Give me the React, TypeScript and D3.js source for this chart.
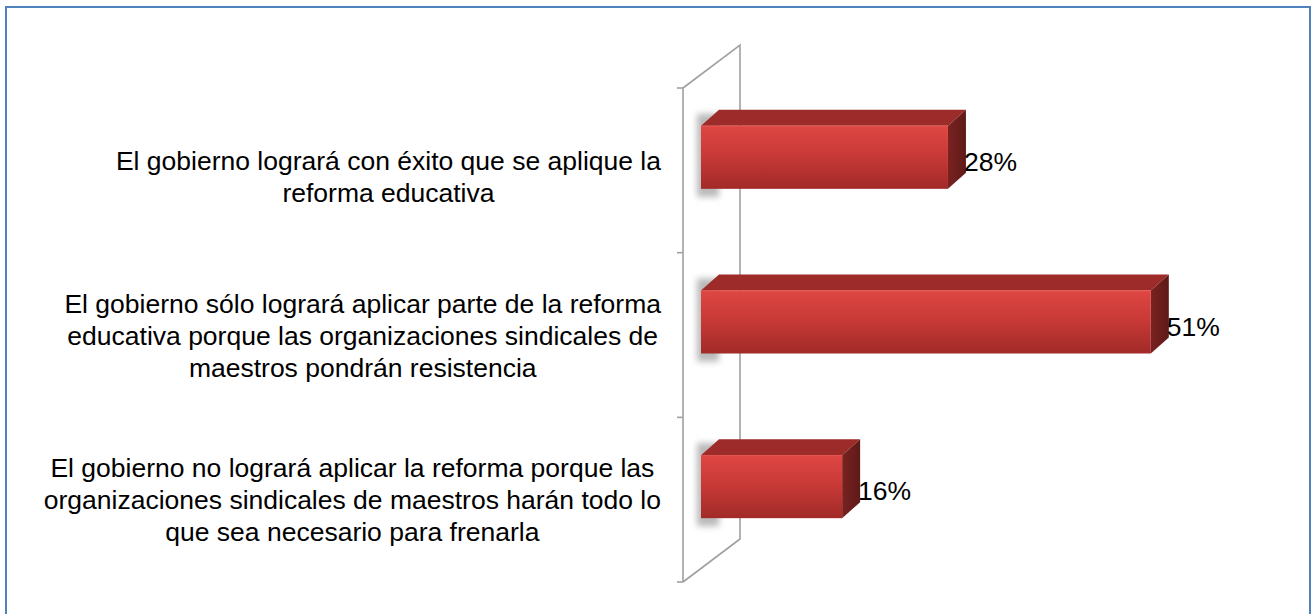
import React, { useEffect, useRef } from "react";
import * as d3 from "d3";

const categories: string[][] = [
  ["El gobierno logrará con éxito que se aplique la", "reforma educativa"],
  [
    "El gobierno sólo logrará aplicar parte de la reforma",
    "educativa porque las organizaciones sindicales de",
    "maestros pondrán resistencia",
  ],
  [
    "El gobierno no logrará aplicar la reforma porque las",
    "organizaciones sindicales de maestros harán todo lo",
    "que sea necesario para frenarla",
  ],
];
const values: number[] = [28, 51, 16];
const valueLabels: string[] = ["28%", "51%", "16%"];

const W = 1316;
const H = 614;
const FONT = "'Liberation Sans', Arial, sans-serif";
const FS = 26.5;

export default function App() {
  const ref = useRef<SVGSVGElement | null>(null);

  useEffect(() => {
    const svg = d3.select(ref.current);
    svg.selectAll("*").remove();

    const defs = svg.append("defs");
    const gFront = defs.append("linearGradient").attr("id", "gFront").attr("x1", 0).attr("y1", 0).attr("x2", 0).attr("y2", 1);
    gFront.append("stop").attr("offset", "0%").attr("stop-color", "#DE4643");
    gFront.append("stop").attr("offset", "45%").attr("stop-color", "#C93A37");
    gFront.append("stop").attr("offset", "100%").attr("stop-color", "#A12A28");
    const gSide = defs.append("linearGradient").attr("id", "gSide").attr("x1", 0).attr("y1", 0).attr("x2", 1).attr("y2", 0);
    gSide.append("stop").attr("offset", "0%").attr("stop-color", "#7A2220");
    gSide.append("stop").attr("offset", "100%").attr("stop-color", "#5E1A18");
    const blur = defs.append("filter").attr("id", "blur").attr("x", "-50%").attr("y", "-50%").attr("width", "200%").attr("height", "200%");
    blur.append("feGaussianBlur").attr("stdDeviation", 3);

    // border
    svg.append("rect").attr("x", 6).attr("y", 7).attr("width", 1304).attr("height", 620)
      .attr("fill", "none").attr("stroke", "#4F81BD").attr("stroke-width", 2);

    const wallX = 683;
    const depthX = 57;
    const depthY = -43;
    const top = 88;
    const bottom = 582;

    const y = d3.scaleBand<number>().domain(d3.range(categories.length)).range([top, bottom]);
    const x = d3.scaleLinear().domain([0, 100]).range([701, 701 + 882]);

    // wall
    const wall = svg.append("g").attr("stroke", "#A0A0A0").attr("stroke-width", 1.6).attr("fill", "none");
    wall.append("path").attr("d",
      `M${wallX},${bottom} L${wallX},${top} L${wallX + depthX},${top + depthY} L${wallX + depthX},${bottom + depthY} L${wallX},${bottom}`);
    const ticks = [top, ...categories.map((_, i) => (y(i) as number) + y.bandwidth())];
    ticks.forEach((t) => {
      wall.append("line").attr("x1", wallX - 6).attr("x2", wallX).attr("y1", t).attr("y2", t);
    });

    const barH = 63;
    const dx = 18;
    const dy = -16;

    values.forEach((v, i) => {
      const cy = (y(i) as number) + y.bandwidth() / 2 - 13;
      const y0 = cy - barH / 2;
      const y1 = cy + barH / 2;
      const x0 = x(0);
      const x1 = x(v);
      const g = svg.append("g");
      // shadow on wall
      g.append("rect").attr("x", x0 - 4).attr("y", y0 - 12).attr("width", 22).attr("height", barH + 20)
        .attr("fill", "#8A8A8A").attr("opacity", 0.6).attr("filter", "url(#blur)");
      // top face
      g.append("path").attr("d", `M${x0},${y0} L${x0 + dx},${y0 + dy} L${x1 + dx},${y0 + dy} L${x1},${y0} Z`)
        .attr("fill", "#9C2B29");
      // side face
      g.append("path").attr("d", `M${x1},${y0} L${x1 + dx},${y0 + dy} L${x1 + dx},${y1 + dy} L${x1},${y1} Z`)
        .attr("fill", "url(#gSide)");
      // front face
      g.append("rect").attr("x", x0).attr("y", y0).attr("width", x1 - x0).attr("height", barH)
        .attr("fill", "url(#gFront)");
      g.append("line").attr("x1", x0).attr("x2", x1).attr("y1", y0 + 0.5).attr("y2", y0 + 0.5)
        .attr("stroke", "#E85450").attr("stroke-width", 1);
      // value label
      svg.append("text").attr("x", x1 + dx - 2).attr("y", cy + 4 + 9.5)
        .attr("font-family", FONT).attr("font-size", FS)
        .attr("fill", "#000").text(valueLabels[i]);
    });

    // category labels
    const lineH = 32;
    categories.forEach((lines, i) => {
      const bc = (y(i) as number) + y.bandwidth() / 2 + (i === 0 ? 6 : 0);
      const g = svg.append("g").attr("font-family", FONT)
        .attr("font-size", FS).attr("fill", "#000").attr("text-anchor", "middle");
      const texts = lines.map((l, j) =>
        g.append("text").attr("y", bc + (j - (lines.length - 1) / 2) * lineH + 9.5).text(l));
      const maxW = d3.max(texts, (t) => (t.node() as SVGTextElement).getComputedTextLength()) || 0;
      const cx = 661 - maxW / 2;
      texts.forEach((t) => t.attr("x", cx));
    });
  }, []);

  return (
    <svg ref={ref} width={W} height={H} style={{ position: "absolute", left: 0, top: 0, background: "#fff" }} />
  );
}
